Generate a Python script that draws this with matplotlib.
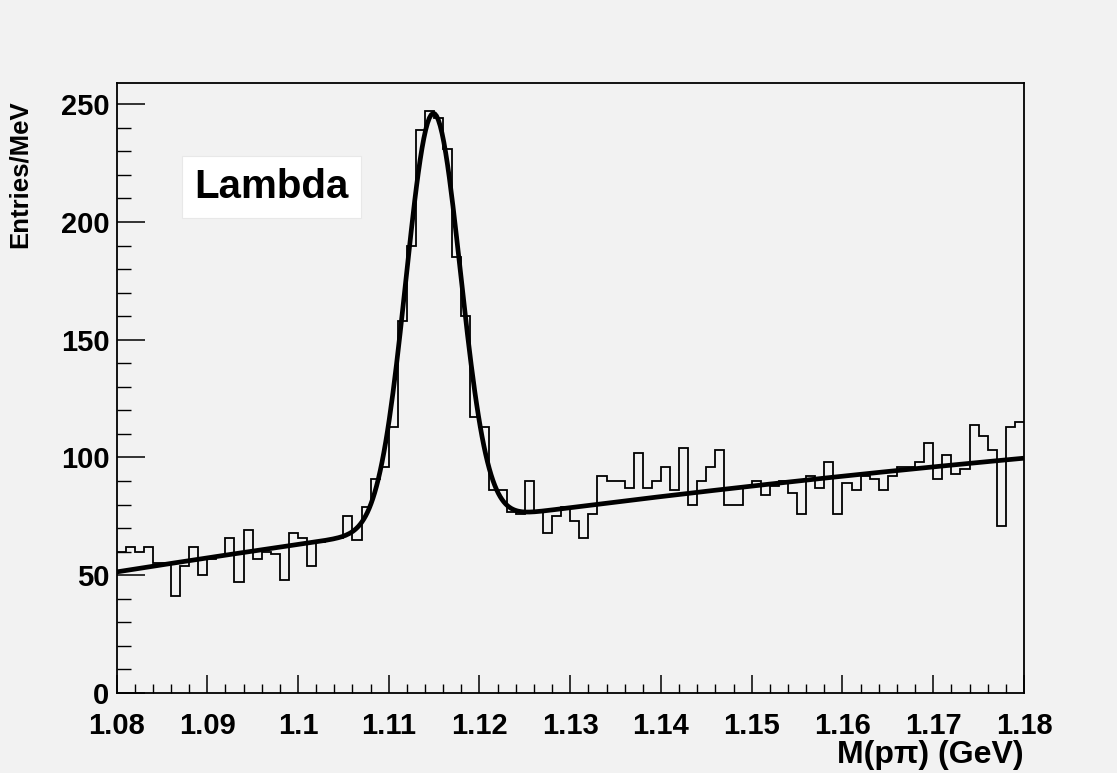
import numpy as np
import matplotlib
matplotlib.use("Agg")
import matplotlib.pyplot as plt
from matplotlib.ticker import MultipleLocator

# histogram: 100 bins of 1 MeV from 1.08 to 1.18 GeV
x_min, x_max, n_bins = 1.08, 1.18, 100
counts = [
    60, 62, 60, 62, 55, 55, 41, 54, 62, 50,
    57, 58, 66, 47, 69, 57, 60, 59, 48, 68,
    66, 54, 64, 65, 66, 75, 65, 79, 91, 96,
    113, 158, 190, 239, 247, 244, 231, 185, 160, 117,
    113, 86, 86, 77, 76, 90, 77, 68, 75, 79,
    73, 66, 76, 92, 90, 90, 87, 102, 87, 90,
    96, 86, 104, 80, 90, 96, 103, 80, 80, 88,
    90, 84, 88, 90, 85, 76, 92, 87, 98, 76,
    89, 86, 92, 91, 86, 92, 96, 96, 98, 106,
    91, 101, 93, 95, 114, 109, 103, 71, 113, 115,
]

# fit: pol2 background + gaussian (x in GeV)
bkg_p0 = 51.4
bkg_p1 = 608.7        # per GeV
bkg_p2 = -1257.0      # per GeV^2
gaus_amp = 175.0
gaus_mean = 1.1149
gaus_sigma = 0.0030

title_text = "Lambda"
xlabel = "M(p\u03c0) (GeV)"
ylabel = "Entries/MeV"

bg = "#f2f2f2"
plt.rcParams["font.family"] = ["Liberation Sans", "DejaVu Sans"]
plt.rcParams["font.weight"] = "bold"

fig = plt.figure(figsize=(11.17, 7.73), dpi=100, facecolor=bg)
ax = fig.add_axes([0.1043, 0.1035, 0.8124, 0.7891])
ax.set_facecolor(bg)

edges = np.linspace(x_min, x_max, n_bins + 1)
ax.stairs(counts, edges, baseline=None, color="black", linewidth=1.3)

xf = np.linspace(x_min, x_max, 500)
t = xf - x_min
fit = (bkg_p0 + bkg_p1 * t + bkg_p2 * t ** 2
       + gaus_amp * np.exp(-0.5 * ((xf - gaus_mean) / gaus_sigma) ** 2))
ax.plot(xf, fit, color="black", linewidth=3.4, solid_capstyle="butt")

ax.set_xlim(x_min, x_max)
ax.set_ylim(0, 259)

ax.xaxis.set_minor_locator(MultipleLocator(0.002))
ax.yaxis.set_major_locator(MultipleLocator(50))
ax.yaxis.set_minor_locator(MultipleLocator(10))
ax.set_xticks(np.round(np.arange(1.08, 1.1801, 0.01), 2))
ax.set_xticklabels(["1.08", "1.09", "1.1", "1.11", "1.12", "1.13",
                    "1.14", "1.15", "1.16", "1.17", "1.18"])

ax.tick_params(axis="x", which="major", direction="in", length=13, width=1.1,
               labelsize=21, pad=14, top=False)
ax.tick_params(axis="x", which="minor", direction="in", length=6.5, width=1.0,
               top=False)
ax.tick_params(axis="y", which="major", direction="in", length=20, width=1.1,
               labelsize=21, pad=5, right=False)
ax.tick_params(axis="y", which="minor", direction="in", length=10, width=1.0,
               right=False)
for lab in ax.get_xticklabels() + ax.get_yticklabels():
    lab.set_fontweight("bold")

for s in ax.spines.values():
    s.set_linewidth(1.3)

ax.set_xlabel(xlabel, fontsize=23, fontweight="bold", loc="right")
ax.xaxis.set_label_coords(1.0, -0.077)
ax.set_ylabel(ylabel, fontsize=18.5, fontweight="bold", loc="top")
ax.yaxis.set_label_coords(-0.093, 0.972)

ax.text(0.171, 0.83, title_text, transform=ax.transAxes, fontsize=29,
        fontweight="bold", ha="center", va="center",
        bbox=dict(boxstyle="square,pad=0.3", facecolor="white",
                  edgecolor="#e8e8e8", linewidth=0.8))

fig.savefig("out.png", dpi=100, facecolor=bg)
